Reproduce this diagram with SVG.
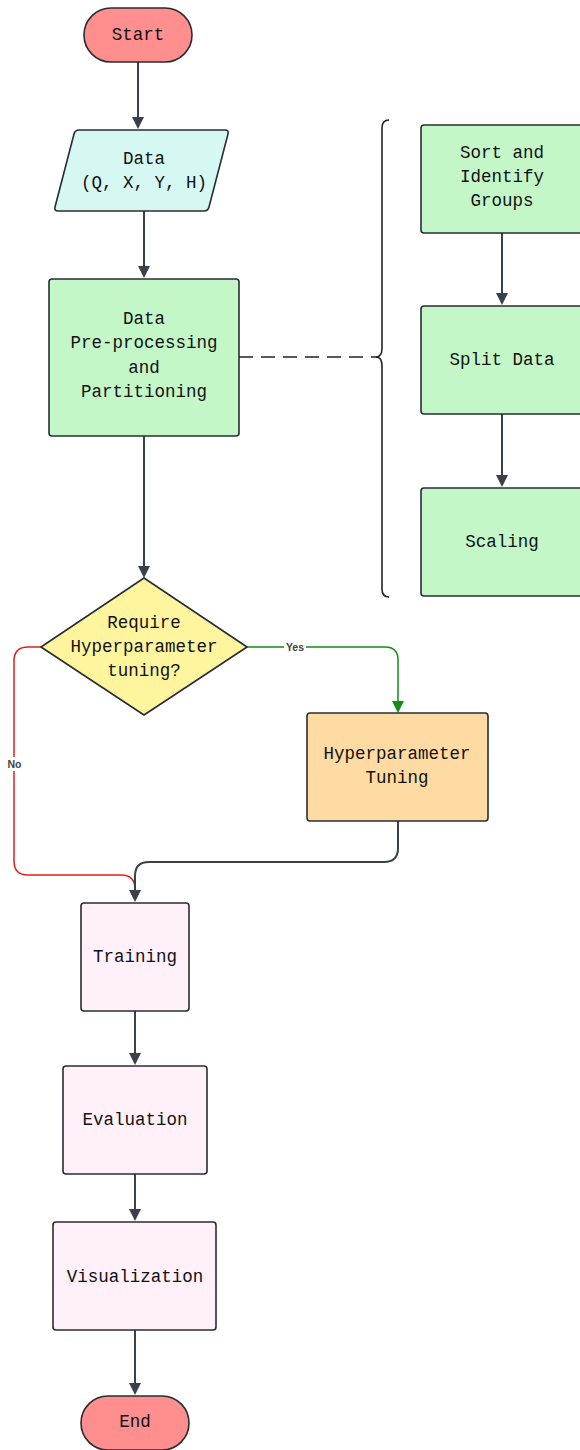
<svg xmlns="http://www.w3.org/2000/svg" width="580" height="1450" viewBox="0 0 580 1450">
<defs>
<style>
.n{stroke:#282c33;stroke-width:1.6}
.t{font-family:"Liberation Mono","Courier New",monospace;font-size:17.5px;fill:#111;text-anchor:middle;dominant-baseline:central}
.c{fill:none;stroke:#3a414a;stroke-width:2}
.ah{fill:#3a414a}
.lb{font-family:"Liberation Sans",Arial,sans-serif;font-size:10.5px;font-weight:bold;fill:#444;text-anchor:middle;dominant-baseline:central}
</style>
</defs>
<rect width="580" height="1450" fill="#fff"/>
<g id="connectors">
<path class="c" d="M138,62V118"/><path class="ah" d="M132,117L138,129L144,117z"/>
<path class="c" d="M144,211V267"/><path class="ah" d="M138,266L144,278L150,266z"/>
<path class="c" d="M144,436V567"/><path class="ah" d="M138,566L144,578L150,566z"/>
<path class="c" d="M502,233V294"/><path class="ah" d="M496,293L502,305L508,293z"/>
<path class="c" d="M502,414V476"/><path class="ah" d="M496,475L502,487L508,475z"/>
<path d="M239,357H378" fill="none" stroke="#222" stroke-width="1.6" stroke-dasharray="14,8"/>
<path d="M389,120Q382,120 382,128V348Q382,357 376,357Q382,357 382,366V589Q382,597 389,597" fill="none" stroke="#222" stroke-width="1.6"/>
<path d="M247,647H385Q398,647 398,660V702" fill="none" stroke="#119011" stroke-width="1.5"/>
<path d="M392,701L398,713L404,701z" fill="#119011"/>
<rect x="284" y="640" width="22" height="13" fill="#fff"/>
<text class="lb" x="295" y="646.5">Yes</text>
<path d="M41,647H28Q14,647 14,661V861Q14,875 28,875H121Q135,875 135,889" fill="none" stroke="#e0201c" stroke-width="1.5"/>
<rect x="6" y="757" width="17" height="14" fill="#fff"/>
<text class="lb" x="14.5" y="764">No</text>
<path class="c" d="M398,821V848Q398,862 384,862H149Q135,862 135,876V891"/>
<path class="ah" d="M129,890L135,902L141,890z"/>
<path class="c" d="M135,1011V1053"/><path class="ah" d="M129,1053L135,1065L141,1053z"/>
<path class="c" d="M135,1174V1210"/><path class="ah" d="M129,1209L135,1221L141,1209z"/>
<path class="c" d="M135,1330V1384"/><path class="ah" d="M129,1383L135,1395L141,1383z"/>
</g>
<g id="start"><rect class="n" x="84" y="8" width="108" height="54" rx="27" fill="#ff8f8f"/><text class="t" x="138" y="35">Start</text></g>
<g id="data"><path class="n" d="M79,130H225Q229,130 228,134L209,207Q208,211 204,211H58Q54,211 55,207L74,134Q75,130 79,130z" fill="#d6f8f2"/><text class="t" x="144" y="159">Data</text><text class="t" x="144" y="183">(Q, X, Y, H)</text></g>
<g id="preprocess"><rect class="n" x="49" y="279" width="190" height="157" rx="3" fill="#c3f7c8"/><text class="t" x="144" y="319">Data</text><text class="t" x="144" y="343">Pre-processing</text><text class="t" x="144" y="368">and</text><text class="t" x="144" y="392">Partitioning</text></g>
<g id="sort"><rect class="n" x="421" y="125" width="164" height="108" rx="3" fill="#c3f7c8"/><text class="t" x="502" y="153">Sort and</text><text class="t" x="502" y="177">Identify</text><text class="t" x="502" y="201">Groups</text></g>
<g id="split"><rect class="n" x="421" y="306" width="164" height="108" rx="3" fill="#c3f7c8"/><text class="t" x="502" y="360">Split Data</text></g>
<g id="scaling"><rect class="n" x="421" y="488" width="164" height="108" rx="3" fill="#c3f7c8"/><text class="t" x="502" y="542">Scaling</text></g>
<g id="decision"><path class="n" d="M144,578L247,647L144,715L41,647z" stroke-linejoin="round" fill="#fff59f"/><text class="t" x="144" y="623">Require</text><text class="t" x="144" y="647">Hyperparameter</text><text class="t" x="144" y="671">tuning?</text></g>
<g id="tuning"><rect class="n" x="307" y="713" width="181" height="108" rx="3" fill="#fedba3"/><text class="t" x="397" y="754">Hyperparameter</text><text class="t" x="397" y="778">Tuning</text></g>
<g id="training"><rect class="n" x="81" y="903" width="108" height="108" rx="3" fill="#fff0fa"/><text class="t" x="135" y="957">Training</text></g>
<g id="evaluation"><rect class="n" x="63" y="1066" width="144" height="108" rx="3" fill="#fff0fa"/><text class="t" x="135" y="1120">Evaluation</text></g>
<g id="visualization"><rect class="n" x="53" y="1222" width="163" height="108" rx="3" fill="#fff0fa"/><text class="t" x="135" y="1277">Visualization</text></g>
<g id="end"><rect class="n" x="81" y="1396" width="108" height="54" rx="27" fill="#ff8f8f"/><text class="t" x="135" y="1422">End</text></g>
</svg>
